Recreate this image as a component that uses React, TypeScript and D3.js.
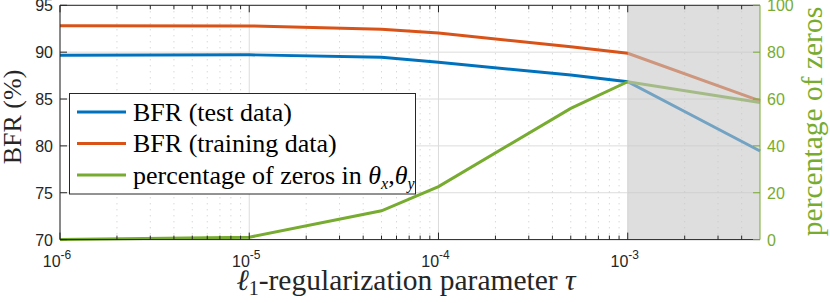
import * as d3 from "d3";

// regularization parameter values (x) and the three measured series
const tau = [1e-6, 1e-5, 5e-5, 1e-4, 5e-4, 1e-3, 5e-3];
const bfrTest = [89.68, 89.72, 89.45, 88.92, 87.56, 86.85, 79.45];
const bfrTrain = [92.82, 92.8, 92.44, 92.04, 90.58, 89.88, 84.8];
const pctZeros = [0, 1, 12.3, 22.6, 56, 67.4, 58.5];

const leftTicks = [70, 75, 80, 85, 90, 95];
const rightTicks = [0, 20, 40, 60, 80, 100];
const decades = [-6, -5, -4, -3];

const W = 830;
const H = 303;
const m = { left: 60, right: 760, top: 5.3, bottom: 239.6 };

const BLUE = "#0072BD";
const ORANGE = "#D95319";
const GREEN = "#77AC30";
const AX = "#262626";
const SERIF = "Liberation Serif, DejaVu Serif, serif";
const SANS = "Liberation Sans, Arial, sans-serif";

export default function App() {
  const x = d3.scaleLog().domain([1e-6, 5e-3]).range([m.left, m.right]);
  const yL = d3.scaleLinear().domain([70, 95]).range([m.bottom, m.top]);
  const yR = d3.scaleLinear().domain([0, 100]).range([m.bottom, m.top]);

  const lineL = d3
    .line<number>()
    .x((_, i) => x(tau[i]))
    .y((d) => yL(d));
  const lineR = d3
    .line<number>()
    .x((_, i) => x(tau[i]))
    .y((d) => yR(d));

  // minor log ticks 2..9 per decade inside the domain
  const minor: number[] = [];
  decades.forEach((e) => {
    for (let k = 2; k <= 9; k++) {
      const v = k * Math.pow(10, e);
      if (v < 5e-3) minor.push(v);
    }
  });
  const major = decades.map((e) => Math.pow(10, e));

  const shadeX0 = x(1e-3);
  const shadeX1 = x(5e-3);

  const legendRows = [
    { color: BLUE, label: "BFR (test data)" },
    { color: ORANGE, label: "BFR (training data)" },
    { color: GREEN, label: "zeros" },
  ];

  const serif = { fontFamily: SERIF };
  const sans = { fontFamily: SANS };

  return (
    <svg
      width={W}
      height={H}
      style={{ position: "absolute", left: 0, top: 0, background: "#fff" }}
    >
      {/* grid */}
      <g>
        {leftTicks.map((t) => (
          <line
            key={"hg" + t}
            x1={m.left}
            x2={m.right}
            y1={yL(t)}
            y2={yL(t)}
            stroke="#dcdcdc"
            strokeWidth={1}
          />
        ))}
        {minor.map((v) => (
          <line
            key={"mg" + v}
            x1={x(v)}
            x2={x(v)}
            y1={m.top}
            y2={m.bottom}
            stroke="#c8c8c8"
            strokeWidth={1}
            strokeDasharray="1,5"
          />
        ))}
        {major.map((v) => (
          <line
            key={"Mg" + v}
            x1={x(v)}
            x2={x(v)}
            y1={m.top}
            y2={m.bottom}
            stroke="#dcdcdc"
            strokeWidth={1}
          />
        ))}
      </g>

      {/* series */}
      <path d={lineL(bfrTrain) ?? ""} fill="none" stroke={ORANGE} strokeWidth={3} />
      <path d={lineL(bfrTest) ?? ""} fill="none" stroke={BLUE} strokeWidth={3} />
      <path d={lineR(pctZeros) ?? ""} fill="none" stroke={GREEN} strokeWidth={3} />

      {/* shaded region on top */}
      <rect
        x={shadeX0}
        y={m.top}
        width={shadeX1 - shadeX0}
        height={m.bottom - m.top}
        fill="#c6c6c6"
        fillOpacity={0.58}
      />

      {/* box / axes */}
      <line x1={m.left} x2={m.right} y1={m.top} y2={m.top} stroke={AX} strokeWidth={1} />
      <line x1={m.left} x2={m.right} y1={m.bottom} y2={m.bottom} stroke={AX} strokeWidth={1} />
      <line x1={m.left} x2={m.left} y1={m.top} y2={m.bottom} stroke={AX} strokeWidth={1} />
      <line x1={m.right} x2={m.right} y1={m.top} y2={m.bottom} stroke={GREEN} strokeWidth={1} />

      {/* x ticks */}
      {major.map((v) => (
        <g key={"xt" + v}>
          <line x1={x(v)} x2={x(v)} y1={m.bottom} y2={m.bottom - 7} stroke={AX} />
          <line x1={x(v)} x2={x(v)} y1={m.top} y2={m.top + 7} stroke={AX} />
        </g>
      ))}
      {minor.map((v) => (
        <g key={"xm" + v}>
          <line x1={x(v)} x2={x(v)} y1={m.bottom} y2={m.bottom - 4} stroke={AX} />
          <line x1={x(v)} x2={x(v)} y1={m.top} y2={m.top + 4} stroke={AX} />
        </g>
      ))}
      {decades.map((e) => (
        <text
          key={"xl" + e}
          x={x(Math.pow(10, e)) - 3}
          y={266.7}
          textAnchor="middle"
          style={sans}
          fontSize={16}
          fill={AX}
        >
          10
          <tspan dy={-8} fontSize={12}>
            {"-" + Math.abs(e)}
          </tspan>
        </text>
      ))}

      {/* left ticks */}
      {leftTicks.map((t) => (
        <g key={"yl" + t}>
          <line x1={m.left} x2={m.left + 7} y1={yL(t)} y2={yL(t)} stroke={AX} />
          <text
            x={53}
            y={yL(t) + 6}
            textAnchor="end"
            style={sans}
            fontSize={16}
            fill={AX}
          >
            {t}
          </text>
        </g>
      ))}

      {/* right ticks */}
      {rightTicks.map((t) => (
        <g key={"yr" + t}>
          <line x1={m.right} x2={m.right - 7} y1={yR(t)} y2={yR(t)} stroke={GREEN} />
          <text
            x={767}
            y={yR(t) + 6}
            textAnchor="start"
            style={sans}
            fontSize={16}
            fill={GREEN}
          >
            {t}
          </text>
        </g>
      ))}

      {/* axis labels */}
      <text
        transform="translate(21,117) rotate(-90)"
        textAnchor="middle"
        style={serif}
        fontSize={26}
        fill={AX}
      >
        BFR (%)
      </text>
      <text
        transform="translate(822,121.5) rotate(-90)"
        textAnchor="middle"
        style={serif}
        fontSize={29.5}
        fill={GREEN}
      >
        percentage of zeros
      </text>
      <text x={406} y={290} textAnchor="middle" style={serif} fontSize={29.5} fill={AX}>
        <tspan fontStyle="italic">ℓ</tspan>
        <tspan dy={5} fontSize={20}>
          1
        </tspan>
        <tspan dy={-5}>-regularization parameter </tspan>
        <tspan fontStyle="italic">τ</tspan>
      </text>

      {/* legend */}
      <rect x={69.5} y={93.5} width={346} height={100.5} fill="#fff" stroke={AX} strokeWidth={1} />
      {legendRows.map((r, i) => {
        const ry = 112 + i * 31.5;
        return (
          <g key={"lg" + i}>
            <line x1={77} x2={126} y1={ry} y2={ry} stroke={r.color} strokeWidth={3} />
            {i < 2 ? (
              <text x={133} y={ry + 8.5} style={serif} fontSize={26} fill="#000">
                {r.label}
              </text>
            ) : (
              <text x={133} y={ry + 8.5} style={serif} fontSize={26} fill="#000">
                percentage of zeros in{" "}
                <tspan fontStyle="italic">θ</tspan>
                <tspan dy={5} fontSize={16} fontStyle="italic">
                  x
                </tspan>
                <tspan dy={-5}>,</tspan>
                <tspan fontStyle="italic">θ</tspan>
                <tspan dy={5} fontSize={16} fontStyle="italic">
                  y
                </tspan>
              </text>
            )}
          </g>
        );
      })}
    </svg>
  );
}
